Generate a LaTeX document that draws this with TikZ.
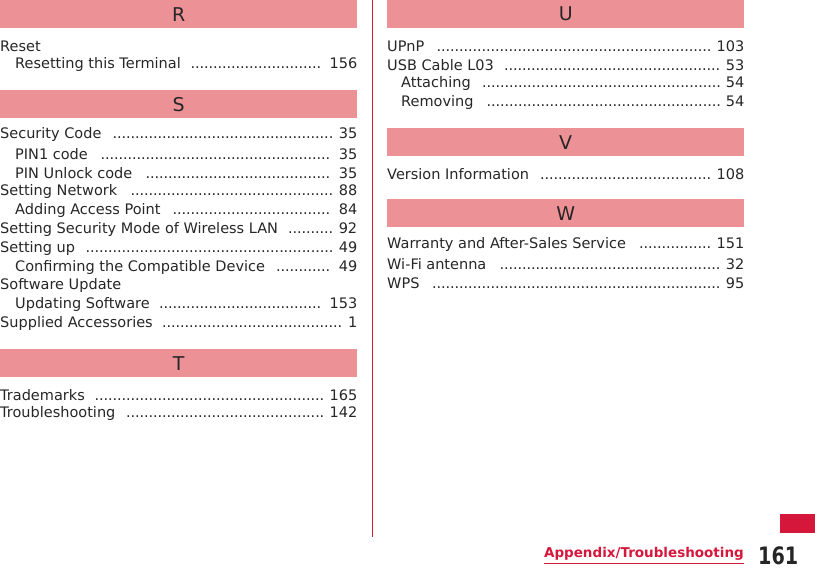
\documentclass[tikz,border=0pt]{standalone}
\usepackage{fontspec}
\setmainfont{DejaVu Sans}
\definecolor{hdr}{HTML}{EC9296}
\definecolor{accent}{HTML}{D6173C}
\newcommand\myentry[6]{\node[entry,anchor=west] (#1) at (#2,#3) {\hbox to #4pt{#5\ \ \leaders\hbox to 4.5pt{\hss.\hss}\hfill\ #6}};}
\tikzset{
  entry/.style={inner sep=0pt,font=\fontsize{14.5}{16}\selectfont,text=black!85},
  hdrbar/.style={fill=hdr,draw=none,minimum width=357pt,minimum height=28pt,inner sep=0pt,anchor=north west,font=\fontsize{19}{22}\selectfont,text=black!85},
  plain/.style={inner sep=0pt,anchor=west,font=\fontsize{14.5}{16}\selectfont,text=black!85}
}
\begin{document}
\begin{tikzpicture}[x=1pt,y=-1pt]
\useasboundingbox (0,0) rectangle (815,569);
% headers
\node[hdrbar] (hR) at (0,0) {R};
\node[hdrbar] (hS) at (0,90) {S};
\node[hdrbar] (hT) at (0,349) {T};
\node[hdrbar] (hU) at (387,0) {U};
\node[hdrbar] (hV) at (387,128) {V};
\node[hdrbar] (hW) at (387,199) {W};
% separator
\draw[accent,line width=0.8pt] (372,0) -- (372,537);
% left column
\node[plain] (reset) at (0,46) {Reset};
\myentry{e1}{15}{65}{342}{Resetting this Terminal}{156}
\myentry{e2}{0}{135}{357}{Security Code}{35}
\myentry{e3}{15}{154}{342}{PIN1 code}{35}
\myentry{e4}{15}{173}{342}{PIN Unlock code}{35}
\myentry{e5}{0}{192}{357}{Setting Network}{88}
\myentry{e6}{15}{211}{342}{Adding Access Point}{84}
\myentry{e7}{0}{230}{357}{Setting Security Mode of Wireless LAN}{92}
\myentry{e8}{0}{249}{357}{Setting up}{49}
\myentry{e9}{15}{268}{342}{Confirming the Compatible Device}{49}
\node[plain] (sw) at (0,286) {Software Update};
\myentry{e10}{15}{305}{342}{Updating Software}{153}
\myentry{e11}{0}{324}{357}{Supplied Accessories}{1}
\myentry{e12}{0}{395}{357}{Trademarks}{165}
\myentry{e13}{0}{414}{357}{Troubleshooting}{142}
% right column
\myentry{f1}{387}{46}{357}{UPnP}{103}
\myentry{f2}{387}{65}{357}{USB Cable L03}{53}
\myentry{f3}{401}{84}{343}{Attaching}{54}
\myentry{f4}{401}{103}{343}{Removing}{54}
\myentry{f5}{387}{174}{357}{Version Information}{108}
\myentry{f6}{387}{245}{357}{Warranty and After-Sales Service}{151}
\myentry{f7}{387}{264}{357}{Wi-Fi antenna}{32}
\myentry{f8}{387}{283}{357}{WPS}{95}
% footer
\fill[accent] (780,514) rectangle (815,533);
\node[inner sep=0pt,anchor=east,text=accent,font=\bfseries\fontsize{13.5}{16}\selectfont] (ft) at (744,554) {Appendix/Troubleshooting};
\draw[accent,line width=1.2pt] ([yshift=-3pt]ft.south west) -- ([yshift=-3pt]ft.south east);
\node[inner sep=0pt,anchor=west,font=\bfseries\fontsize{24}{26}\selectfont,text=black!85,xscale=0.8] (pg) at (758,556) {161};
\end{tikzpicture}
\end{document}
